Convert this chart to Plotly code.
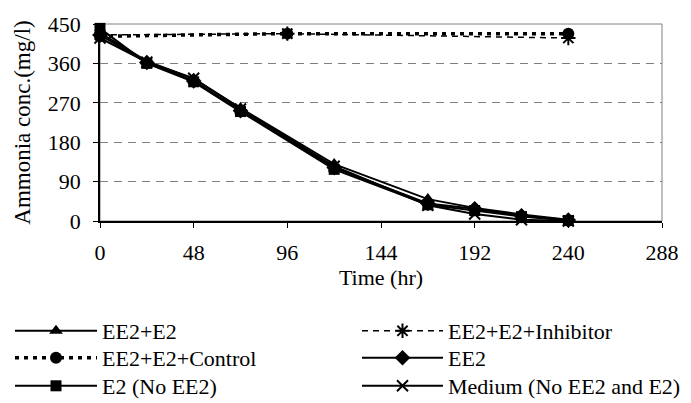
import plotly.graph_objects as go

time_main = [0, 24, 48, 72, 120, 168, 192, 216, 240]
ee2_e2 = [430, 365, 325, 258, 130, 50, 30, 15, 3]
ee2 = [425, 362, 320, 252, 122, 40, 28, 12, 2]
e2_only = [440, 360, 318, 250, 118, 37, 24, 10, 1]
medium = [418, 363, 326, 256, 125, 36, 16, 3, 0]

time_ctrl = [0, 96, 240]
inhibitor = [425, 428, 418]
control = [422, 428, 428]

x_ticks = [0, 48, 96, 144, 192, 240, 288]
y_ticks = [0, 90, 180, 270, 360, 450]

FONT = "Liberation Serif"
FS = 22
W, H = 691, 403
fig = go.Figure()

def add(name, x, y, symbol, size, legend, dash="solid", width=2, mline=0):
    fig.add_trace(go.Scatter(
        x=x, y=y, name=name, mode="lines+markers", legend=legend,
        line=dict(color="black", width=width, dash=dash),
        marker=dict(symbol=symbol, size=size, color="black",
                    line=dict(color="black", width=mline)),
        cliponaxis=False,
    ))

add("EE2+E2", time_main, ee2_e2, "triangle-up", 12, "legend")
add("EE2+E2+Inhibitor", time_ctrl, inhibitor, "asterisk-open", 12, "legend2",
    dash="6px,5px", width=1.5, mline=2)
add("EE2+E2+Control", time_ctrl, control, "circle", 12, "legend3",
    dash="4px,5px", width=3.5)
add("EE2", time_main, ee2, "diamond", 12, "legend4")
add("E2 (No EE2)", time_main, e2_only, "square", 11, "legend5")
add("Medium (No EE2 and E2)", time_main, medium, "x-thin-open", 11, "legend6", mline=2)

# legend cells: (left px, row centre px, item width)
cells = {
    "legend": (10, 331, 82), "legend2": (357, 331, 81),
    "legend3": (10, 358, 82), "legend4": (357, 358, 81),
    "legend5": (10, 386, 82), "legend6": (357, 386, 81),
}
legends = {}
for key, (lx, ry, iw) in cells.items():
    legends[key] = dict(x=lx / W, y=1 - ry / H, xref="container", yref="container",
                        xanchor="left", yanchor="middle", itemwidth=iw,
                        orientation="h",
                        bgcolor="rgba(0,0,0,0)", font=dict(size=FS, family=FONT))

fig.update_layout(
    width=W, height=H,
    margin=dict(l=100, r=21, t=15, b=182),
    paper_bgcolor="white", plot_bgcolor="white",
    font=dict(family=FONT, size=FS, color="black"),
    showlegend=True,
    shapes=[dict(type="rect", xref="x domain", yref="y domain", x0=0, x1=1, y0=0, y1=1,
                 line=dict(color="#808080", width=1), layer="below")],
    **legends,
)

fig.update_xaxes(
    range=[0, 288], tickvals=x_ticks, ticktext=[str(v) for v in x_ticks],
    showgrid=False, zeroline=False, showline=True, linecolor="black", linewidth=1.5,
    ticks="outside", ticklen=5, tickcolor="black", tickwidth=1,
    title=dict(text="Time (hr)", standoff=4, font=dict(size=FS)),
    ticklabelstandoff=6,
)
fig.update_yaxes(
    range=[0, 450], tickvals=y_ticks, ticktext=[str(v) for v in y_ticks],
    showgrid=True, gridcolor="#808080", gridwidth=1, griddash="8px,6px",
    zeroline=False, showline=True, linecolor="black", linewidth=1.5,
    ticks="outside", ticklen=5, tickcolor="black", tickwidth=1,
    title=dict(text="Ammonia conc.(mg/l)", standoff=11, font=dict(size=23)),
    ticklabelstandoff=8,
)

fig.write_html("out.html")
